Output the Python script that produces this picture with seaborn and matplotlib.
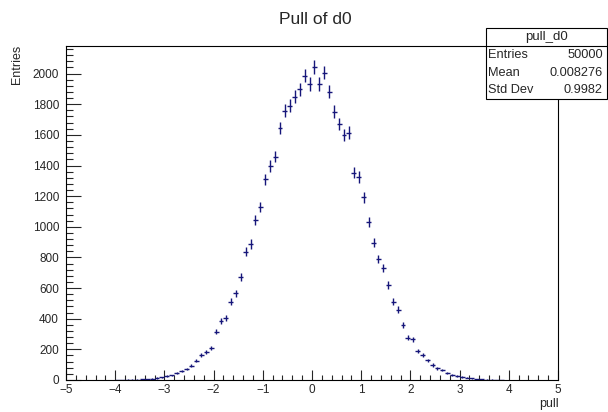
import numpy as np
import pandas as pd
import matplotlib
matplotlib.use("Agg")
import matplotlib.pyplot as plt
import seaborn as sns
from matplotlib.patches import Rectangle
from matplotlib.ticker import MultipleLocator

sns.set_style("white")
plt.rcParams['font.family'] = ['Liberation Sans', 'DejaVu Sans']

# histogram of pull_d0: 100 bins from -5 to 5
bin_lo = -5.0
bin_hi = 5.0
n_bins = 100
counts = [0, 0, 0, 0, 0, 0, 0, 0, 0, 0,
          1, 1, 2, 2, 3, 5, 7, 9, 13, 17,
          26, 30, 44, 57, 72, 93, 126, 163, 185, 207,
          315, 385, 403, 510, 566, 671, 838, 888, 1045, 1127,
          1310, 1397, 1458, 1644, 1759, 1791, 1850, 1898, 1987, 1933,
          2042, 1933, 2007, 1883, 1752, 1670, 1600, 1615, 1354, 1325,
          1193, 1034, 897, 790, 730, 620, 510, 460, 359, 276,
          266, 189, 163, 128, 98, 76, 65, 44, 33, 26,
          20, 14, 10, 7, 5, 3, 2, 1, 1, 0,
          0, 0, 0, 0, 0, 0, 0, 0, 0, 0]

stats_name = "pull_d0"
stats_rows = [("Entries", "50000"), ("Mean", "0.008276"), ("Std Dev", "0.9982")]

width = (bin_hi - bin_lo) / n_bins
centers = bin_lo + width * (np.arange(n_bins) + 0.5)
df = pd.DataFrame({"pull": centers, "entries": counts})
df = df[df["entries"] > 0]

fig = plt.figure(figsize=(6.08, 4.12), dpi=100)
ax = fig.add_axes([66 / 608, 1 - 380 / 412, 492 / 608, 334 / 412])

col = "#16167a"
ax.errorbar(df["pull"], df["entries"], xerr=width / 2, yerr=np.sqrt(df["entries"]),
            fmt="none", ecolor=col, elinewidth=1.0, capsize=0)

ax.set_xlim(bin_lo, bin_hi)
ax.set_ylim(0, 2180)
ax.xaxis.set_major_locator(MultipleLocator(1))
ax.xaxis.set_minor_locator(MultipleLocator(0.2))
ax.yaxis.set_major_locator(MultipleLocator(200))
ax.yaxis.set_minor_locator(MultipleLocator(40))
ax.tick_params(axis="x", which="major", direction="in", length=7.2, width=0.8,
               labelsize=8.5, pad=3, bottom=True, top=False)
ax.tick_params(axis="x", which="minor", direction="in", length=3.8, width=0.8,
               bottom=True, top=False)
ax.tick_params(axis="y", which="major", direction="in", length=10.6, width=0.8,
               labelsize=8.5, pad=5, left=True, right=False)
ax.tick_params(axis="y", which="minor", direction="in", length=5.3, width=0.8,
               left=True, right=False)
for s in ax.spines.values():
    s.set_color("black")
    s.set_linewidth(0.8)
ax.set_xlabel("")
ax.set_ylabel("")

fig.text(315 / 608, 1 - 19 / 412, "Pull of d0", ha="center", va="center", fontsize=12.5)
fig.text(17 / 608, 1 - 45 / 412, "Entries", rotation=90, ha="center", va="top", fontsize=9)
fig.text(559 / 608, 1 - 404 / 412, "pull", ha="right", va="center", fontsize=9)

# stats box: title row plus three equal rows
bx0, bx1 = 485.5 / 608, 607 / 608
by_top, by_bot, by_mid = 1 - 28 / 412, 1 - 99 / 412, 1 - 46 / 412
fig.patches.append(Rectangle((bx0, by_bot), bx1 - bx0, by_top - by_bot, transform=fig.transFigure,
                             facecolor="white", edgecolor="black", linewidth=0.8, zorder=5))
fig.add_artist(plt.Line2D([bx0, bx1], [by_mid, by_mid], transform=fig.transFigure,
                          color="black", linewidth=0.8, zorder=6))
fig.text((bx0 + bx1) / 2, 1 - 37 / 412, stats_name, ha="center", va="center", fontsize=9.5, zorder=7)
row_y = [55, 72.5, 90]
for (lab, val), yy in zip(stats_rows, row_y):
    fig.text(488 / 608, 1 - yy / 412, lab, ha="left", va="center", fontsize=9.2, zorder=7)
    fig.text(603 / 608, 1 - yy / 412, val, ha="right", va="center", fontsize=9.2, zorder=7)

fig.savefig("out.png", dpi=100)
